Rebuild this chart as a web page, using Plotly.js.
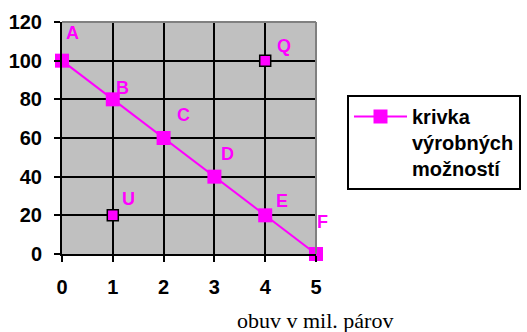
<!DOCTYPE html>
<html>
<head>
<meta charset="utf-8">
<script src="https://cdn.plot.ly/plotly-3.0.1.min.js"></script>
<style>html,body{margin:0;padding:0;background:#fff;}#chart{width:527px;height:332px;}</style>
</head>
<body>
<div id="chart"></div>
<script>
var curveX = [0, 1, 2, 3, 4, 5];
var curveY = [100, 80, 60, 40, 20, 0];
var curveLabels = ["A", "B", "C", "D", "E", "F"];
var extraX = [4, 1];
var extraY = [100, 20];
var extraLabels = ["Q", "U"];
var xTicks = [0, 1, 2, 3, 4, 5];
var yTicks = [0, 20, 40, 60, 80, 100, 120];
var seriesName = "krivka<br>výrobných<br>možností";
var xTitle = "obuv v mil. párov";

var magenta = "#FF00FF";
var labelShiftX = [10, 10, 20, 13, 17, 6];
var labelShiftY = [28, 11, 23, 23, 14, 32];
var extraShiftX = [19, 16];
var extraShiftY = [15, 16];

var traces = [
  {
    x: curveX, y: curveY, type: "scatter", mode: "lines+markers",
    name: "<b>" + seriesName.split("<br>").join("</b><br><b>") + "</b>",
    line: {color: magenta, width: 2},
    marker: {symbol: "square", size: 14, color: magenta},
    cliponaxis: false
  },
  {
    x: extraX, y: extraY, type: "scatter", mode: "markers",
    showlegend: false,
    marker: {symbol: "square", size: 11, color: magenta, line: {color: "#000", width: 1.5}},
    cliponaxis: false
  }
];

var annotations = [];
var lblFont = {family: "Liberation Sans, Arial, sans-serif", size: 18, color: magenta};
curveLabels.forEach(function (t, i) {
  annotations.push({x: curveX[i], y: curveY[i], xref: "x", yref: "y", text: "<b>" + t + "</b>", showarrow: false,
    xanchor: "center", yanchor: "middle",
    xshift: labelShiftX[i], yshift: labelShiftY[i], font: lblFont});
});
extraLabels.forEach(function (t, i) {
  annotations.push({x: extraX[i], y: extraY[i], xref: "x", yref: "y", text: "<b>" + t + "</b>", showarrow: false,
    xanchor: "center", yanchor: "middle",
    xshift: extraShiftX[i], yshift: extraShiftY[i], font: lblFont});
});
annotations.push({
  x: (315 - 62) / (527 - 62 - 211), y: -(320 - 254) / (254 - 22),
  xref: "paper", yref: "paper", xanchor: "center", yanchor: "middle",
  text: xTitle, showarrow: false,
  font: {family: "Liberation Serif, Times New Roman, serif", size: 22, color: "#000"}
});

var tickFont = {family: "Liberation Sans, Arial, sans-serif", size: 20, color: "#000"};
function bold(v) { return "<b>" + v + "</b>"; }

var layout = {
  width: 527, height: 332,
  margin: {l: 62, r: 211, t: 22, b: 78},
  paper_bgcolor: "#fff",
  plot_bgcolor: "#C0C0C0",
  showlegend: true,
  legend: {
    x: 347 / 527, xref: "container", xanchor: "left",
    y: 1 - 95 / 332, yref: "container", yanchor: "top",
    bordercolor: "#000", borderwidth: 2, bgcolor: "#fff",
    font: {family: "Liberation Sans, Arial, sans-serif", size: 20, color: "#000"},
    valign: "top", itemwidth: 53, tracegroupgap: 0
  },
  xaxis: {
    range: [0, 5], tickvals: xTicks, ticktext: xTicks.map(bold),
    showgrid: true, gridcolor: "#000", gridwidth: 2,
    showline: true, linecolor: "#000", linewidth: 2,
    ticks: "outside", ticklen: 6, tickwidth: 2, tickcolor: "#000",
    ticklabelstandoff: 8,
    tickfont: tickFont, zeroline: false, fixedrange: true
  },
  yaxis: {
    range: [0, 120], tickvals: yTicks, ticktext: yTicks.map(bold),
    showgrid: true, gridcolor: "#000", gridwidth: 2,
    showline: true, linecolor: "#000", linewidth: 2,
    ticks: "outside", ticklen: 6, tickwidth: 2, tickcolor: "#000",
    ticklabelstandoff: 8,
    tickfont: tickFont, zeroline: false, fixedrange: true
  },
  shapes: [
    {type: "line", xref: "x domain", yref: "y domain", x0: 1, x1: 1, y0: 0, y1: 1, line: {color: "#808080", width: 2}},
    {type: "line", xref: "x domain", yref: "y domain", x0: 0, x1: 1, y0: 1, y1: 1, line: {color: "#808080", width: 2}}
  ],
  annotations: annotations
};

Plotly.newPlot("chart", traces, layout, {staticPlot: true, displayModeBar: false});
</script>
</body>
</html>
